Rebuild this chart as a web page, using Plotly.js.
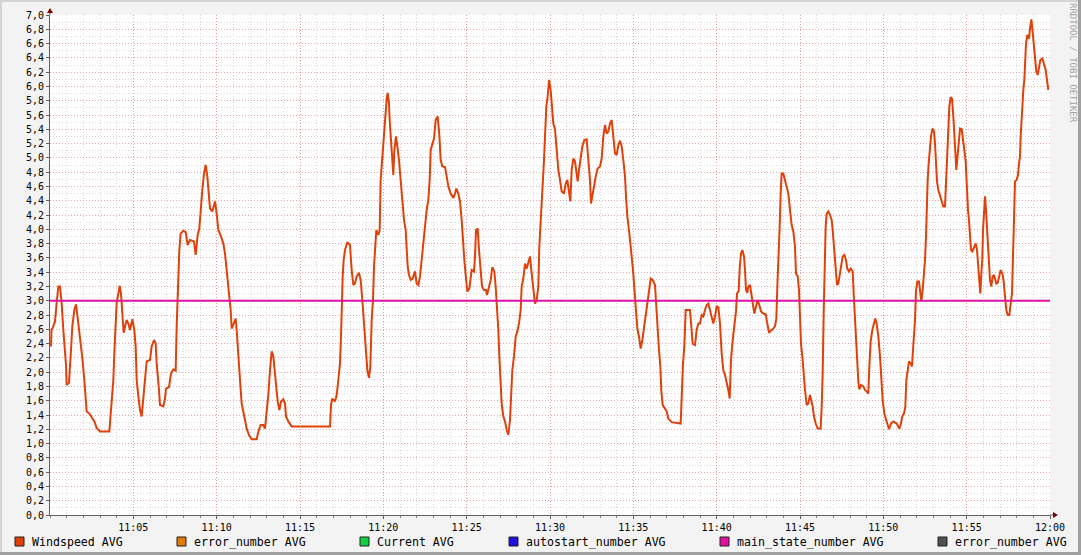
<!DOCTYPE html>
<html>
<head>
<meta charset="utf-8">
<script src="https://cdn.plot.ly/plotly-3.0.1.min.js"></script>
<style>html,body{margin:0;padding:0;background:#f3f3f3;}#chart{width:1081px;height:555px;}</style>
</head>
<body>
<div id="chart"></div>
<script>
// minutes after 11:00
const windMinutes = [0.06,0.09,0.20,0.30,0.40,0.50,0.60,0.70,0.80,0.90,0.96,1.00,1.14,1.26,1.34,1.46,1.56,1.66,1.80,1.94,2.06,2.14,2.20,2.36,2.50,2.66,2.80,3.00,3.56,3.64,3.70,3.80,3.86,3.94,4.00,4.10,4.18,4.26,4.34,4.42,4.50,4.60,4.70,4.80,4.94,5.06,5.14,5.20,5.30,5.40,5.50,5.60,5.70,5.80,6.00,6.10,6.24,6.34,6.40,6.46,6.54,6.60,6.80,6.90,6.96,7.14,7.26,7.40,7.54,7.60,7.66,7.70,7.76,7.84,8.00,8.14,8.26,8.40,8.64,8.74,8.86,8.96,9.04,9.14,9.24,9.34,9.44,9.50,9.60,9.74,9.90,10.00,10.10,10.26,10.40,10.50,10.60,10.70,10.76,10.84,10.90,11.00,11.14,11.20,11.26,11.34,11.40,11.50,11.60,11.70,11.80,11.94,12.10,12.40,12.50,12.64,12.80,12.90,13.00,13.10,13.20,13.30,13.40,13.46,13.56,13.66,13.76,13.86,14.00,14.10,14.16,14.30,14.50,16.80,16.86,16.94,17.10,17.20,17.30,17.40,17.46,17.50,17.56,17.62,17.70,17.84,18.00,18.10,18.20,18.30,18.40,18.54,18.64,18.74,18.84,18.94,19.04,19.14,19.22,19.30,19.38,19.44,19.50,19.58,19.70,19.78,19.84,19.94,20.04,20.14,20.20,20.26,20.34,20.38,20.46,20.54,20.60,20.66,20.76,20.84,20.94,21.04,21.14,21.24,21.34,21.40,21.46,21.54,21.64,21.76,21.90,22.00,22.10,22.20,22.30,22.40,22.50,22.60,22.70,22.78,22.84,22.94,23.04,23.14,23.26,23.36,23.44,23.54,23.70,23.80,23.90,24.04,24.20,24.30,24.38,24.50,24.60,24.70,24.78,24.86,24.94,25.04,25.16,25.24,25.30,25.44,25.50,25.56,25.66,25.74,25.84,25.92,26.04,26.16,26.22,26.34,26.44,26.54,26.66,26.74,26.84,26.90,26.96,27.04,27.10,27.20,27.30,27.40,27.50,27.60,27.66,27.74,27.84,27.94,28.04,28.14,28.24,28.30,28.40,28.50,28.60,28.70,28.80,28.90,29.00,29.10,29.20,29.30,29.36,29.44,29.50,29.56,29.64,29.70,29.78,29.86,29.94,30.04,30.10,30.20,30.30,30.40,30.50,30.60,30.70,30.84,30.94,31.04,31.14,31.22,31.30,31.40,31.50,31.60,31.66,31.74,31.84,31.94,32.06,32.20,32.30,32.40,32.46,32.56,32.66,32.76,32.86,33.00,33.10,33.20,33.30,33.40,33.50,33.60,33.70,33.80,33.90,34.00,34.10,34.20,34.30,34.40,34.50,34.56,34.64,34.74,34.82,34.90,34.98,35.04,35.10,35.16,35.24,35.34,35.44,35.54,35.64,35.74,35.84,35.94,36.04,36.16,36.30,36.36,36.44,36.54,36.62,36.68,36.76,36.90,37.00,37.10,37.30,37.84,37.90,37.98,38.06,38.14,38.40,38.50,38.56,38.70,38.80,38.90,39.00,39.10,39.20,39.30,39.40,39.50,39.60,39.70,39.80,39.90,40.00,40.10,40.20,40.30,40.40,40.50,40.60,40.70,40.78,40.86,40.94,41.02,41.10,41.16,41.22,41.32,41.38,41.46,41.54,41.64,41.70,41.76,41.84,41.90,42.00,42.06,42.14,42.26,42.36,42.46,42.56,42.66,42.80,42.94,43.04,43.14,43.24,43.36,43.50,43.58,43.64,43.72,43.78,43.84,43.90,44.00,44.10,44.20,44.30,44.40,44.50,44.60,44.70,44.76,44.86,44.94,45.02,45.06,45.16,45.24,45.30,45.40,45.50,45.60,45.68,45.76,45.84,45.94,46.06,46.24,46.30,46.36,46.42,46.48,46.54,46.60,46.70,46.80,46.90,46.96,47.04,47.10,47.16,47.22,47.30,47.40,47.46,47.56,47.66,47.76,47.84,47.94,48.04,48.16,48.22,48.30,48.36,48.42,48.50,48.56,48.66,48.80,48.90,49.00,49.10,49.16,49.24,49.34,49.44,49.52,49.60,49.70,49.80,49.88,49.96,50.06,50.16,50.26,50.34,50.46,50.60,50.80,50.96,51.04,51.14,51.24,51.32,51.38,51.46,51.54,51.64,51.72,51.78,51.84,51.90,51.96,52.04,52.14,52.20,52.28,52.36,52.44,52.50,52.56,52.60,52.66,52.72,52.78,52.86,52.94,53.04,53.10,53.16,53.22,53.30,53.40,53.50,53.60,53.70,53.76,53.82,53.90,53.96,54.04,54.12,54.20,54.26,54.32,54.38,54.44,54.50,54.60,54.70,54.80,54.86,54.94,55.00,55.08,55.14,55.20,55.26,55.34,55.44,55.54,55.62,55.68,55.76,55.82,55.88,55.94,55.98,56.04,56.10,56.16,56.22,56.28,56.34,56.40,56.48,56.56,56.64,56.70,56.78,56.86,56.94,57.04,57.14,57.22,57.30,57.38,57.46,57.56,57.64,57.72,57.78,57.84,57.90,58.00,58.08,58.14,58.20,58.24,58.30,58.36,58.40,58.46,58.50,58.56,58.64,58.74,58.80,58.88,58.94,59.02,59.10,59.18,59.26,59.34,59.42,59.54,59.64,59.74,59.82,59.90];

const windspeed = [2.36,2.59,2.64,2.71,2.97,3.20,3.20,2.96,2.59,2.31,2.10,1.82,1.85,2.31,2.64,2.87,2.95,2.76,2.50,2.20,1.89,1.66,1.45,1.42,1.36,1.31,1.22,1.17,1.17,1.38,1.57,1.89,2.27,2.59,2.97,3.10,3.21,3.10,2.80,2.55,2.64,2.73,2.68,2.59,2.74,2.59,2.36,1.89,1.66,1.47,1.38,1.64,1.94,2.15,2.17,2.36,2.45,2.40,2.12,1.89,1.75,1.54,1.52,1.63,1.77,1.79,1.98,2.04,2.02,2.64,3.10,3.48,3.71,3.94,3.98,3.96,3.78,3.85,3.83,3.64,3.92,4.01,4.32,4.55,4.78,4.90,4.74,4.53,4.29,4.25,4.39,4.22,3.99,3.90,3.80,3.66,3.43,3.24,3.06,2.87,2.61,2.66,2.75,2.59,2.40,2.22,1.89,1.56,1.42,1.33,1.21,1.12,1.06,1.06,1.17,1.26,1.26,1.21,1.45,1.68,2.03,2.29,2.22,2.08,1.75,1.59,1.47,1.59,1.62,1.56,1.38,1.31,1.24,1.24,1.54,1.63,1.59,1.68,1.89,2.12,2.50,3.01,3.34,3.57,3.71,3.82,3.78,3.43,3.22,3.24,3.34,3.39,3.29,3.01,2.68,2.22,2.03,1.92,2.08,2.73,3.01,3.48,3.80,3.99,3.92,3.99,4.69,5.02,5.30,5.62,5.83,5.91,5.76,5.53,5.20,4.97,4.76,5.11,5.30,5.16,4.97,4.69,4.36,4.13,3.99,3.71,3.48,3.36,3.29,3.31,3.41,3.24,3.22,3.34,3.57,3.85,4.08,4.27,4.41,4.69,5.11,5.18,5.27,5.53,5.58,5.32,4.97,4.88,4.87,4.74,4.60,4.50,4.44,4.50,4.57,4.50,4.39,4.13,3.80,3.57,3.36,3.13,3.17,3.29,3.43,3.41,3.62,3.99,4.01,3.71,3.43,3.20,3.15,3.15,3.08,3.22,3.29,3.47,3.41,3.20,2.87,2.59,2.22,1.84,1.56,1.38,1.31,1.19,1.12,1.33,1.75,2.03,2.22,2.50,2.57,2.68,2.87,3.20,3.31,3.52,3.45,3.52,3.62,3.38,3.15,2.96,3.01,3.20,3.76,4.08,4.36,4.64,4.97,5.30,5.72,5.86,6.09,5.95,5.76,5.48,5.40,5.06,4.83,4.69,4.53,4.50,4.64,4.69,4.50,4.39,4.83,4.99,4.95,4.74,4.67,4.83,4.97,5.16,5.25,5.26,4.97,4.69,4.36,4.50,4.62,4.76,4.85,4.88,4.99,5.30,5.46,5.34,5.37,5.48,5.53,5.32,5.06,5.04,5.18,5.24,5.16,4.97,4.74,4.46,4.18,3.99,3.83,3.62,3.43,3.24,3.01,2.78,2.61,2.50,2.33,2.45,2.64,2.78,2.94,3.13,3.31,3.29,3.22,2.96,2.68,2.31,2.08,1.73,1.54,1.49,1.45,1.35,1.30,1.28,1.75,2.12,2.36,2.87,2.87,2.64,2.40,2.38,2.59,2.68,2.68,2.80,2.78,2.87,2.94,2.96,2.87,2.78,2.68,2.78,2.92,2.91,2.68,2.26,2.03,1.96,1.87,1.75,1.63,2.17,2.40,2.57,2.68,2.85,3.10,3.13,3.45,3.66,3.71,3.62,3.43,3.15,3.11,3.20,3.22,3.13,2.99,2.82,2.92,3.01,2.94,2.85,2.82,2.81,2.68,2.55,2.58,2.60,2.64,2.75,3.20,3.57,4.04,4.50,4.78,4.78,4.67,4.57,4.50,4.27,4.06,3.97,3.76,3.38,3.34,3.15,2.78,2.40,2.17,1.89,1.75,1.54,1.56,1.68,1.61,1.52,1.38,1.28,1.21,1.21,1.52,1.98,2.82,3.48,4.04,4.22,4.25,4.20,4.13,3.99,3.76,3.57,3.34,3.22,3.24,3.38,3.52,3.62,3.64,3.57,3.45,3.41,3.45,3.41,3.10,2.73,2.45,2.17,1.87,1.76,1.82,1.80,1.75,1.73,1.70,2.08,2.43,2.59,2.68,2.75,2.68,2.50,2.22,1.89,1.61,1.42,1.33,1.24,1.20,1.28,1.31,1.28,1.21,1.26,1.38,1.42,1.52,1.89,2.03,2.15,2.12,2.08,2.31,2.52,2.73,3.13,3.27,3.27,3.13,2.99,3.15,3.36,3.57,3.90,4.36,4.69,4.92,5.16,5.30,5.41,5.37,5.20,4.97,4.67,4.55,4.48,4.41,4.32,4.32,4.69,5.02,5.39,5.72,5.85,5.83,5.58,5.32,5.11,4.83,4.99,5.16,5.41,5.40,5.25,5.11,4.95,4.53,4.27,4.13,3.90,3.71,3.69,3.76,3.80,3.71,3.48,3.34,3.10,3.38,3.59,3.99,4.36,4.46,4.27,3.99,3.66,3.43,3.29,3.20,3.34,3.36,3.31,3.24,3.25,3.34,3.43,3.38,3.27,3.06,2.87,2.80,2.80,2.96,3.10,3.62,4.27,4.67,4.69,4.76,4.92,5.02,5.30,5.58,5.81,5.95,6.09,6.32,6.60,6.72,6.67,6.81,6.94,6.81,6.63,6.42,6.21,6.16,6.28,6.37,6.39,6.32,6.23,6.09,5.95];

const mainStateMinutes = [0, 60];
const mainState = [3.0, 3.0];

const xTickMinutes = [5,10,15,20,25,30,35,40,45,50,55,60];
const xTickLabels = ["11:05","11:10","11:15","11:20","11:25","11:30","11:35","11:40","11:45","11:50","11:55","12:00"];

const legendNames = ["Windspeed AVG","error_number AVG","Current AVG","autostart_number AVG","main_state_number AVG","error_number AVG"];
const legendColors = ["#E0400A","#E07B0A","#10D040","#2010E0","#E010A0","#505050"];
const legendPx = [15,177,360,509,720,938];

const W = 1081, H = 555, L = 50, R = 31, T = 15, B = 40;
const pw = W - L - R, ph = H - T - B;
const px = x => (x - L) / pw;
const py = y => (H - B - y) / ph;

const mono = "DejaVu Sans Mono, monospace";

const traces = [
  {x: windMinutes, y: windspeed, type: "scatter", mode: "lines",
   line: {color: "#E0400A", width: 2}, hoverinfo: "skip", showlegend: false},
  {x: mainStateMinutes, y: mainState, type: "scatter", mode: "lines",
   line: {color: "#E010A0", width: 2}, hoverinfo: "skip", showlegend: false}
];

const shapes = [];
const annotations = [];

// frame shading
shapes.push({type:"rect", xref:"paper", yref:"paper", x0:px(0), x1:px(W), y0:py(0), y1:py(2), fillcolor:"#d4d4d4", line:{width:0}, layer:"below"});
shapes.push({type:"rect", xref:"paper", yref:"paper", x0:px(0), x1:px(2), y0:py(H), y1:py(0), fillcolor:"#d4d4d4", line:{width:0}, layer:"below"});
shapes.push({type:"rect", xref:"paper", yref:"paper", x0:px(0), x1:px(W), y0:py(H), y1:py(H-3), fillcolor:"#a0a0a0", line:{width:0}, layer:"below"});
shapes.push({type:"rect", xref:"paper", yref:"paper", x0:px(W-3), x1:px(W), y0:py(H), y1:py(0), fillcolor:"#a0a0a0", line:{width:0}, layer:"below"});

// axis extensions and arrows
shapes.push({type:"line", xref:"paper", yref:"paper", x0:0, x1:0, y0:1, y1:py(11), line:{color:"#606060", width:1}});
shapes.push({type:"line", xref:"paper", yref:"paper", x0:1, x1:px(1054), y0:0, y1:0, line:{color:"#606060", width:1}});
shapes.push({type:"path", xref:"paper", yref:"paper",
  path:`M ${px(47)} ${py(13)} L ${px(53)} ${py(13)} L ${px(50)} ${py(8)} Z`,
  fillcolor:"#800000", line:{color:"#800000", width:0}});
shapes.push({type:"path", xref:"paper", yref:"paper",
  path:`M ${px(1053)} ${py(512)} L ${px(1053)} ${py(518)} L ${px(1058)} ${py(515)} Z`,
  fillcolor:"#800000", line:{color:"#800000", width:0}});

// legend
legendNames.forEach((name, i) => {
  const bx = legendPx[i];
  shapes.push({type:"rect", xref:"paper", yref:"paper",
    x0:px(bx), x1:px(bx+9), y0:py(546), y1:py(537),
    fillcolor:legendColors[i], line:{color:"#202020", width:1}});
  annotations.push({xref:"paper", yref:"paper", x:px(bx+15), y:py(541.5),
    xanchor:"left", yanchor:"middle", text:name, showarrow:false,
    font:{family:mono, size:11.6, color:"#000"}});
});

// watermark
annotations.push({xref:"paper", yref:"paper", x:px(1073), y:py(63), text:"RRDTOOL / TOBI OETIKER",
  textangle:90, showarrow:false, xanchor:"center", yanchor:"middle",
  font:{family:mono, size:9, color:"#a4a4a4"}});

const layout = {
  width: W, height: H,
  margin: {l: L, r: R, t: T, b: B, pad: 0},
  paper_bgcolor: "#f3f3f3",
  plot_bgcolor: "#ffffff",
  separators: ",.",
  showlegend: false,
  xaxis: {
    range: [0, 60], tickmode: "array", tickvals: xTickMinutes, ticktext: xTickLabels,
    showgrid: true, gridcolor: "rgba(225,140,140,0.75)", griddash: "1px,2px", gridwidth: 1,
    minor: {tickmode: "linear", tick0: 0, dtick: 1, showgrid: true, gridcolor: "#dadada", griddash: "1px,2px", gridwidth: 1, ticks: "outside", ticklen: 2, tickcolor: "#808080"},
    showline: true, linecolor: "#606060", linewidth: 1,
    ticks: "outside", ticklen: 3, tickcolor: "#606060",
    tickfont: {family: mono, size: 10, color: "#000"},
    zeroline: false, fixedrange: true
  },
  yaxis: {
    range: [0, 7], tickmode: "linear", tick0: 0, dtick: 0.2, tickformat: ".1f",
    showgrid: true, gridcolor: "rgba(225,140,140,0.75)", griddash: "1px,2px", gridwidth: 1,
    minor: {tickmode: "linear", tick0: 0, dtick: 0.1, showgrid: true, gridcolor: "#dadada", griddash: "1px,2px", gridwidth: 1},
    showline: true, linecolor: "#606060", linewidth: 1,
    ticks: "outside", ticklen: 3, tickcolor: "#606060",
    tickfont: {family: mono, size: 10, color: "#000"},
    zeroline: false, fixedrange: true
  },
  shapes: shapes,
  annotations: annotations
};

Plotly.newPlot("chart", traces, layout, {displayModeBar: false, staticPlot: true});
</script>
</body>
</html>
